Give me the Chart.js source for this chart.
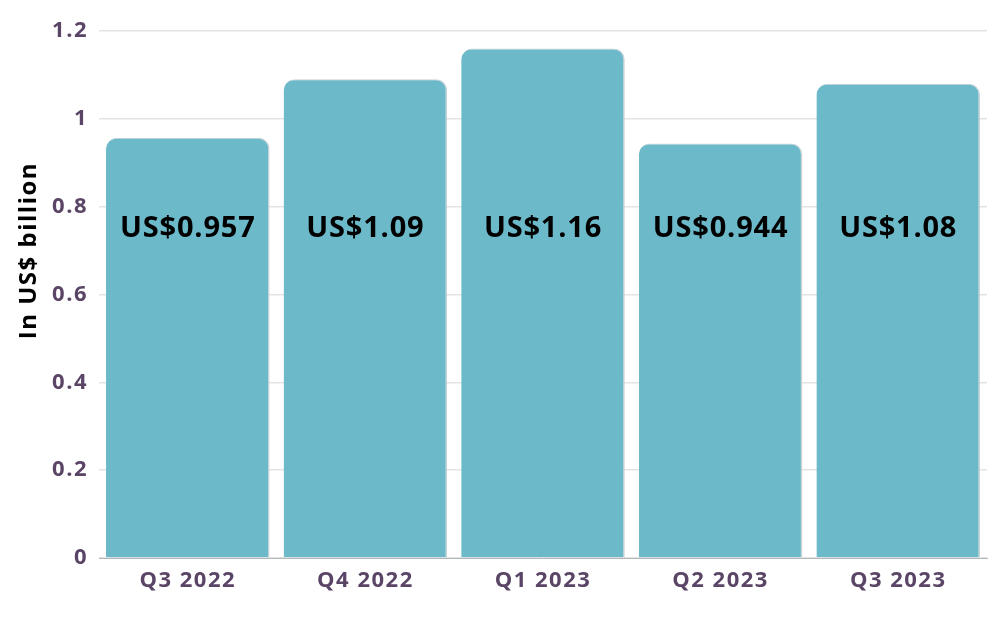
<!DOCTYPE html>
<html lang="en">
<head>
    <meta charset="UTF-8">
    <title>Quarterly revenue</title>
    <script src="https://cdn.jsdelivr.net/npm/chart.js"></script>
    <style>
        html, body { margin: 0; padding: 0; background: #fff; }
        #wrap { width: 999px; height: 621px; }
    </style>
</head>
<body>
    <div id="wrap"><canvas id="myChart"></canvas></div>

    <script>
        const quarters = ['Q3 2022', 'Q4 2022', 'Q1 2023', 'Q2 2023', 'Q3 2023'];
        const revenue = [0.957, 1.09, 1.16, 0.944, 1.08];
        const valueLabels = ['US$0.957', 'US$1.09', 'US$1.16', 'US$0.944', 'US$1.08'];
        const labelLevel = 0.75;  // all value labels sit at the same height
        const axisTitle = 'In US$ billion';

        // slightly wider letter spacing for the axis text, like the original
        const spacing = {
            id: 'spacing',
            beforeUpdate(chart) { chart.ctx.letterSpacing = '1.5px'; },
            beforeDraw(chart) { chart.ctx.letterSpacing = '1.5px'; }
        };

        // y title sits higher than the middle of the axis in the original
        const yTitle = {
            id: 'yTitle',
            afterDraw(chart) {
                const ctx = chart.ctx;
                const y = chart.scales.y.getPixelForValue(0.7);
                ctx.save();
                ctx.translate(29, y);
                ctx.rotate(-Math.PI / 2);
                ctx.font = 'bold 24px "Open Sans"';
                ctx.fillStyle = '#000';
                ctx.textAlign = 'center';
                ctx.textBaseline = 'middle';
                ctx.fillText(axisTitle, 0, 0);
                ctx.restore();
            }
        };

        // draws the value labels inside the bars
        const barLabels = {
            id: 'barLabels',
            afterDatasetsDraw(chart) {
                const ctx = chart.ctx;
                const meta = chart.getDatasetMeta(0);
                const y = chart.scales.y.getPixelForValue(labelLevel);
                ctx.save();
                ctx.letterSpacing = '0.8px';
                ctx.font = 'bold 29px "Open Sans"';
                ctx.fillStyle = '#000';
                ctx.textAlign = 'center';
                ctx.textBaseline = 'middle';
                meta.data.forEach((bar, i) => {
                    ctx.fillText(valueLabels[i], bar.x, y);
                });
                ctx.restore();
            }
        };

        const ctx = document.getElementById('myChart').getContext('2d');
        new Chart(ctx, {
            type: 'bar',
            data: {
                labels: quarters,
                datasets: [{
                    data: revenue,
                    backgroundColor: '#6cb9c9',
                    borderColor: '#c9d3d6',
                    borderWidth: { top: 1, left: 0, right: 1.5, bottom: 0 },
                    borderSkipped: 'bottom',
                    borderRadius: { topLeft: 11, topRight: 11, bottomLeft: 0, bottomRight: 0 },
                    categoryPercentage: 1,
                    barPercentage: 0.921
                }]
            },
            options: {
                responsive: true,
                maintainAspectRatio: false,
                animation: false,
                layout: { padding: { top: 31, right: 12, left: 9, bottom: 0 } },
                plugins: {
                    legend: { display: false },
                    tooltip: { enabled: false }
                },
                scales: {
                    x: {
                        grid: { display: false },
                        border: { color: '#b0b8bb', width: 1 },
                        ticks: {
                            color: '#5b4566',
                            font: { family: 'Open Sans', size: 22, weight: 'bold' },
                            padding: 2
                        },
                        afterFit(scale) { scale.height = 63; }
                    },
                    y: {
                        min: 0,
                        max: 1.2,
                        ticks: {
                            stepSize: 0.2,
                            color: '#5b4566',
                            font: { family: 'Open Sans', size: 22, weight: 'bold' },
                            padding: 11,
                            callback: (v) => String(Math.round(v * 10) / 10)
                        },
                        grid: { color: '#e3e3e3', lineWidth: 1.5, drawTicks: false },
                        border: { display: false },
                        afterFit(scale) { scale.width = 90; }
                    }
                }
            },
            plugins: [spacing, barLabels, yTitle]
        });
    </script>
</body>
</html>
